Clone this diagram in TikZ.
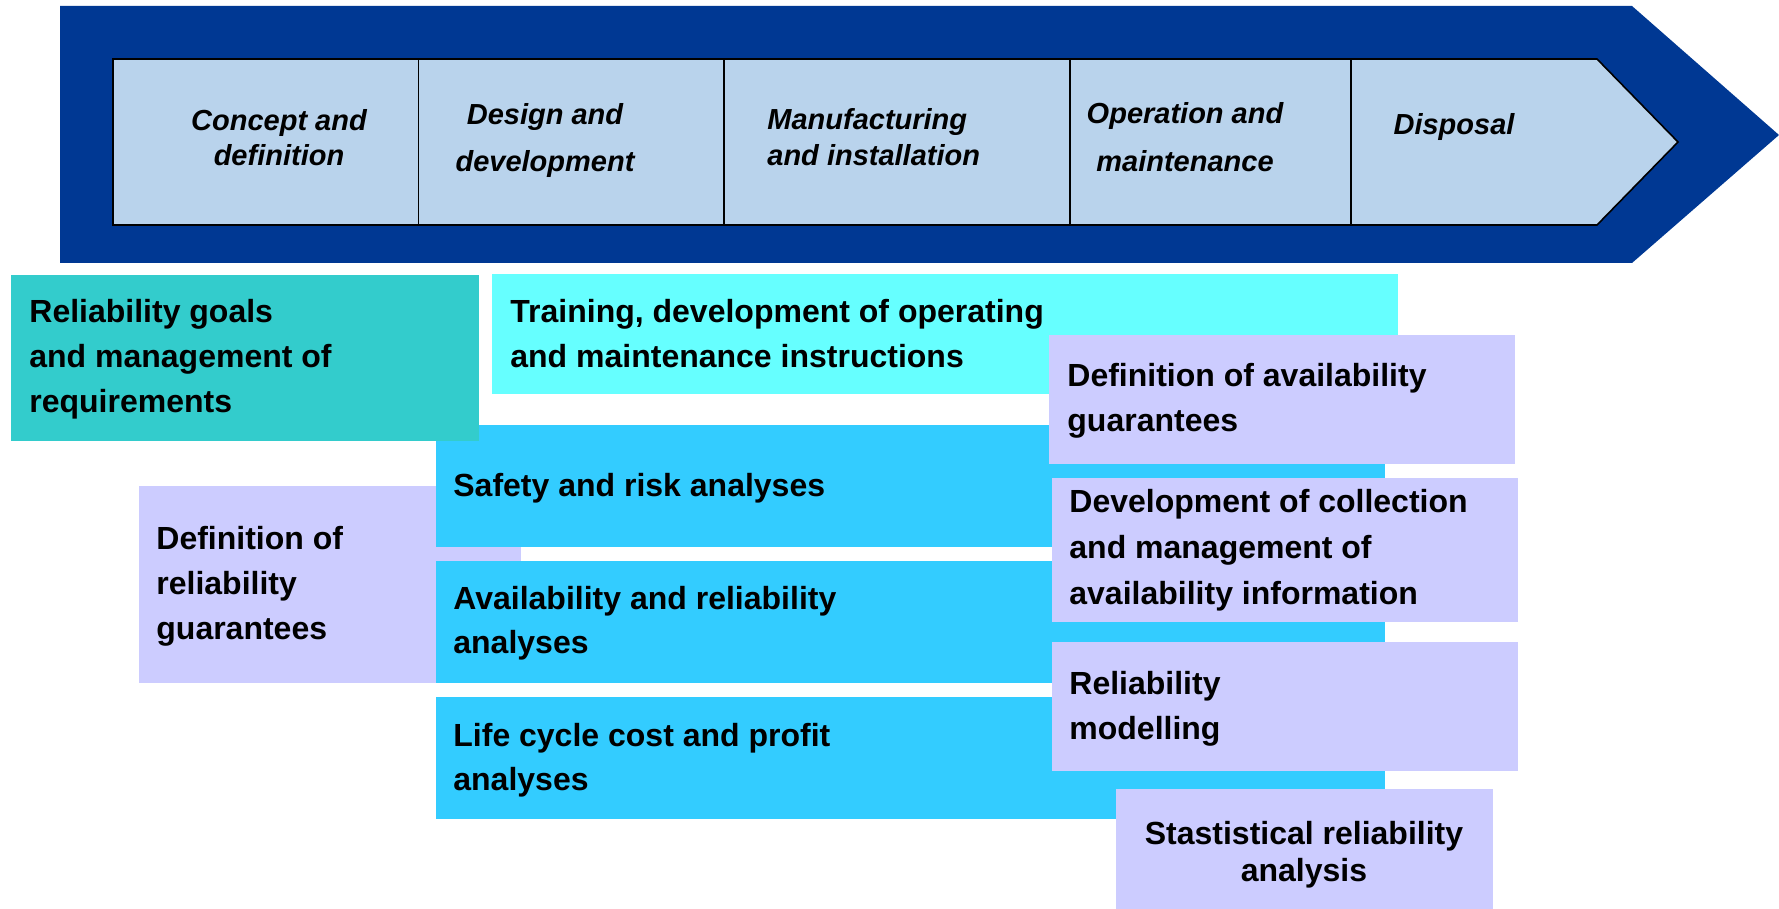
\documentclass[tikz,border=0pt]{standalone}
\usepackage{fontspec}
\setmainfont{Liberation Sans}
\definecolor{darkarrow}{RGB}{0,56,147}
\definecolor{lightarrow}{RGB}{185,211,236}
\definecolor{tealbox}{HTML}{33CCCC}
\definecolor{cyanbox}{HTML}{66FFFF}
\definecolor{bluebox}{HTML}{33CCFF}
\definecolor{lavbox}{HTML}{CCCCFF}
\tikzset{
  boxnode/.style={rectangle, draw=none, inner sep=0pt, outer sep=0pt},
  headtxt/.style={inner sep=0pt, anchor=base, font=\bfseries\itshape\fontsize{14.5}{#1}\selectfont, align=center},
  headtxtl/.style={inner sep=0pt, anchor=base west, font=\bfseries\itshape\fontsize{14.5}{#1}\selectfont, align=left},
  bodytxt/.style={inner sep=0pt, anchor=base west, font=\bfseries\fontsize{16}{#1}\selectfont, align=left},
  bodytxtc/.style={inner sep=0pt, anchor=base, font=\bfseries\fontsize{16}{#1}\selectfont, align=center},
}
\begin{document}
\begin{tikzpicture}[x=0.5pt,y=-0.5pt]
\useasboundingbox (0,0) rectangle (1779,909);
% header arrow
\fill[darkarrow] (60,6) -- (1632,6) -- (1779,135) -- (1632,263) -- (60,263) -- cycle;
\draw[fill=lightarrow, draw=black, line width=0.8pt] (113,59) -- (1597,59) -- (1678,142) -- (1597,225) -- (113,225) -- cycle;
\coordinate (d1t) at (418.5,59); \coordinate (d1b) at (418.5,225);
\coordinate (d2t) at (724,59); \coordinate (d2b) at (724,225);
\coordinate (d3t) at (1070,59); \coordinate (d3b) at (1070,225);
\coordinate (d4t) at (1351,59); \coordinate (d4b) at (1351,225);
\draw[line width=0.6pt] (d1t) -- (d1b) (d2t) -- (d2b) (d3t) -- (d3b) (d4t) -- (d4b);
% (multi-line nodes: base anchor = last line's baseline)
\node[headtxt=17.5pt] (h1) at (279,166) {Concept and\\definition};
\node[headtxt=23.5pt] (h2) at (545,172) {Design and\\development};
\node[headtxtl=18pt] (h3) at (767,166) {Manufacturing\\and installation};
\node[headtxt=24pt] (h4) at (1185,172) {Operation and\\maintenance};
\node[headtxt=12pt] (h5) at (1454,135) {Disposal};
% boxes
\node[boxnode, fill=cyanbox, minimum width=453pt, minimum height=60pt] (train) at (945,334) {};
\node[boxnode, fill=lavbox, minimum width=191pt, minimum height=98.5pt] (defrel) at (330,584.5) {};
\node[boxnode, fill=bluebox, minimum width=474.5pt, minimum height=61pt] (safety) at (910.5,486) {};
\node[boxnode, fill=bluebox, minimum width=474.5pt, minimum height=61pt] (avail) at (910.5,622) {};
\node[boxnode, fill=bluebox, minimum width=474.5pt, minimum height=61pt] (lcc) at (910.5,758) {};
\node[boxnode, fill=tealbox, minimum width=234pt, minimum height=83pt] (goals) at (245,358) {};
\node[boxnode, fill=lavbox, minimum width=233pt, minimum height=64.5pt] (defavail) at (1282,399.5) {};
\node[boxnode, fill=lavbox, minimum width=233pt, minimum height=72pt] (devcol) at (1285,550) {};
\node[boxnode, fill=lavbox, minimum width=233pt, minimum height=64.5pt] (relmod) at (1285,706.5) {};
\node[boxnode, fill=lavbox, minimum width=188.5pt, minimum height=60pt] (stat) at (1304.5,849) {};
% texts
\node[bodytxt=22.5pt] (tgoals) at (29,413) {Reliability goals\\and management of\\requirements};
\node[bodytxt=22.5pt] (ttrain) at (510,368) {Training, development of operating\\and maintenance instructions};
\node[bodytxt=22.5pt] (tdefavail) at (1067,431) {Definition of availability\\guarantees};
\node[bodytxt=22.5pt] (tdefrel) at (156,639) {Definition of\\reliability\\guarantees};
\node[bodytxt=22.5pt] (tsafety) at (453,496) {Safety and risk analyses};
\node[bodytxt=22pt] (tavail) at (453,653) {Availability and reliability\\analyses};
\node[bodytxt=22pt] (tlcc) at (453,790) {Life cycle cost and profit\\analyses};
\node[bodytxt=22.8pt] (tdevcol) at (1069,604) {Development of collection\\and management of\\availability information};
\node[bodytxt=22.5pt] (trelmod) at (1069,739) {Reliability\\modelling};
\node[bodytxtc=18.5pt] (tstat) at (1304,881) {Stastistical reliability\\analysis};
\end{tikzpicture}
\end{document}
